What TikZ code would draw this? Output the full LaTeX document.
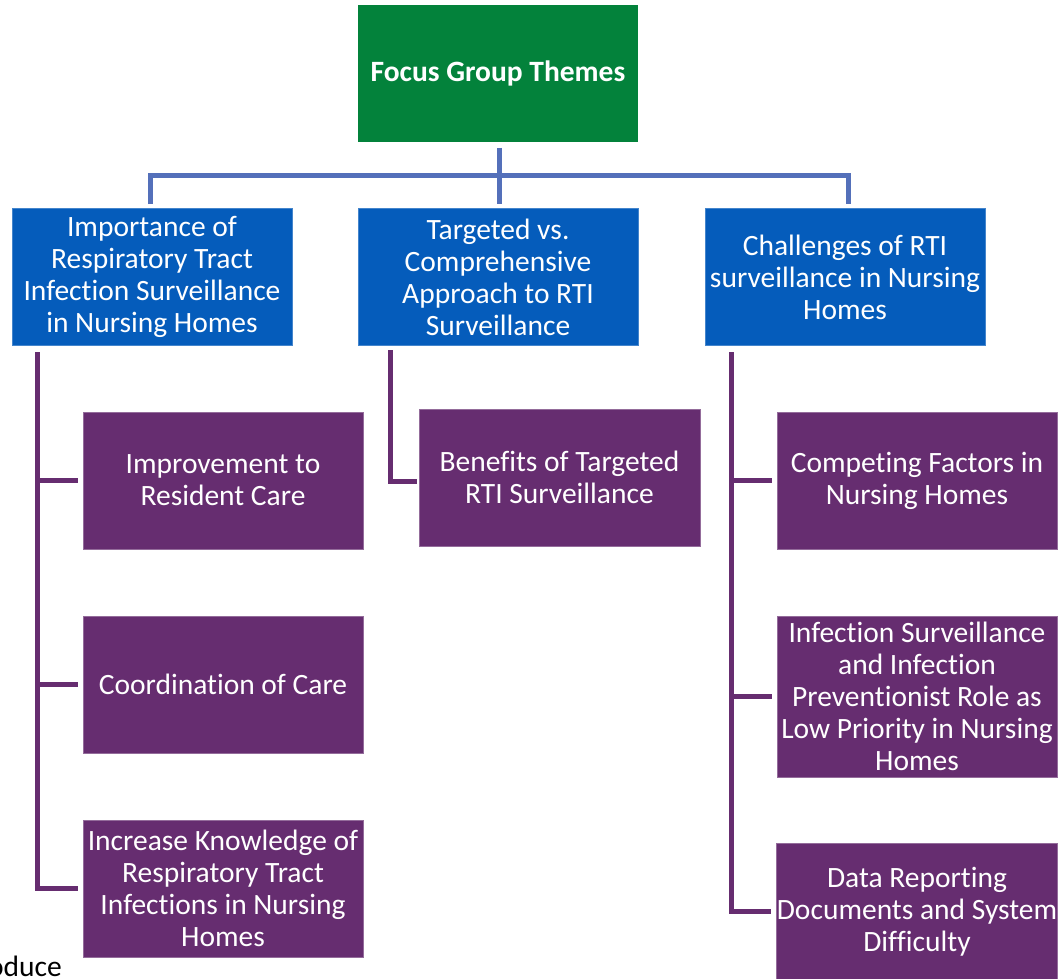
\documentclass[tikz,border=0pt]{standalone}
\usepackage{fontspec}
\setmainfont{Carlito}[Ligatures=CommonOff]
\definecolor{topgreen}{RGB}{3,130,59}
\definecolor{boxblue}{RGB}{5,92,187}
\definecolor{lineblue}{RGB}{84,112,186}
\definecolor{boxpurple}{RGB}{102,45,112}
\begin{document}
\begin{tikzpicture}[x=1pt,y=-1pt,
  base/.style={rectangle, inner sep=0pt, align=center, text=white,
    font=\fontsize{29.5}{32}\selectfont, minimum width=280pt},
  topbox/.style={base, fill=topgreen, minimum height=137pt,
    font=\fontsize{29.5}{32}\selectfont\bfseries},
  themebox/.style={base, fill=boxblue, draw=boxblue!75!white, line width=0.8pt, minimum height=137pt},
  subbox/.style={base, fill=boxpurple, draw=boxpurple!70!white, line width=0.8pt, minimum height=137pt},
  bline/.style={draw=lineblue, line width=5pt},
  pline/.style={draw=boxpurple, line width=5pt},
]
\useasboundingbox (0,0) rectangle (1060,979);

\node[topbox] (top) at (498,73.5) {Focus Group Themes};

\node[themebox] (b1) at (152,277) {Importance of\\Respiratory Tract\\Infection Surveillance\\in Nursing Homes};
\node[themebox] (b2) at (498,277) {Targeted vs.\\Comprehensive\\Approach to RTI\\Surveillance};
\node[themebox] (b3) at (845,277) {Challenges of RTI\\surveillance in Nursing\\Homes};

\node[subbox] (p1) at (223,480.5) {Improvement to\\Resident Care};
\node[subbox] (p2) at (223,684.5) {Coordination of Care};
\node[subbox] (p3) at (223,888.5) {Increase Knowledge of\\Respiratory Tract\\Infections in Nursing\\Homes};

\node[subbox, minimum width=281pt] (p4) at (559.5,477.5) {Benefits of Targeted\\RTI Surveillance};

\node[subbox] (p5) at (917,480.5) {Competing Factors in\\Nursing Homes};
\node[subbox, minimum height=161pt] (p6) at (917,696.5) {Infection Surveillance\\and Infection\\Preventionist Role as\\Low Priority in Nursing\\Homes};
\node[subbox, minimum height=137pt] (p7) at (917,911.5) {Data Reporting\\Documents and System\\Difficulty};

\node[anchor=base east, inner sep=0pt, text=black, font=\fontsize{29.5}{32}\selectfont] (tail) at (62,976) {oduce};

% blue connectors
\coordinate (hb) at (499,175);
\coordinate (tc) at (499,148);
\draw[bline] (tc) -- (499,204);
\draw[bline] (150,204) |- (hb) -| (848,204);

% purple connectors
\coordinate (l0) at (37,352);
\draw[pline] (l0) |- ([xshift=-5pt]p3.west);
\draw[pline] (l0 |- p1.west) -- ([xshift=-5pt]p1.west);
\draw[pline] (l0 |- p2.west) -- ([xshift=-5pt]p2.west);

\coordinate (m0) at (390,350);
\draw[pline] (m0) |- ([xshift=-2pt,yshift=-4pt]p4.west);

\coordinate (r0) at (731,352);
\draw[pline] (r0) |- ([xshift=-5pt]p7.west);
\draw[pline] (r0 |- p5.west) -- ([xshift=-5pt]p5.west);
\draw[pline] (r0 |- p6.west) -- ([xshift=-5pt]p6.west);
\end{tikzpicture}
\end{document}
